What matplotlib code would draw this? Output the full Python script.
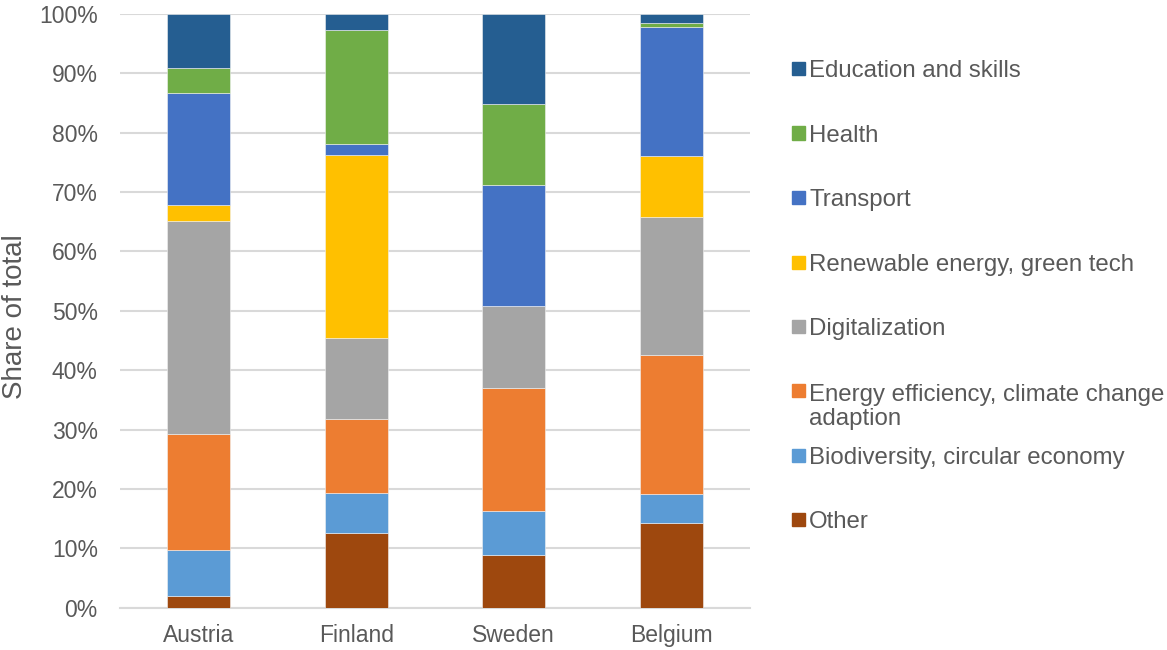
import matplotlib.pyplot as plt
import numpy as np
from matplotlib.patches import Rectangle
from matplotlib.ticker import PercentFormatter

plt.rcParams['font.family'] = ['Liberation Sans', 'DejaVu Sans']

countries = ["Austria", "Finland", "Sweden", "Belgium"]

# bottom to top in each bar
categories = ["Other", "Biodiversity, circular economy",
              "Energy efficiency, climate change\nadaption", "Digitalization",
              "Renewable energy, green tech", "Transport", "Health",
              "Education and skills"]
other = [2.0, 12.5, 8.9, 14.3]
biodiversity = [7.7, 6.8, 7.45, 4.8]
energy_eff = [19.6, 12.55, 20.65, 23.4]
digital = [35.8, 13.5, 13.85, 23.25]
renewable = [2.75, 30.9, 0.0, 10.3]
transport = [18.9, 1.8, 20.3, 21.8]
health = [4.2, 19.2, 13.65, 0.6]
education = [9.0, 2.75, 15.2, 1.5]

colors = ["#9E480E", "#5B9BD5", "#ED7D31", "#A5A5A5",
          "#FFC000", "#4472C4", "#70AD47", "#255E91"]

series = [other, biodiversity, energy_eff, digital,
          renewable, transport, health, education]

text_col = "#595959"
W, H = 1167, 650
fig = plt.figure(figsize=(W / 100, H / 100), dpi=100)
ax = fig.add_axes([120 / W, 1 - 607.7 / H, 630 / W, (607.7 - 14) / H])

x = np.arange(len(countries))
bottom = np.zeros(len(countries))
for vals, col in zip(series, colors):
    ax.bar(x, vals, 0.4, bottom=bottom, color=col, edgecolor="#f2f2f2",
           linewidth=0.4, zorder=3)
    bottom += np.array(vals)

ax.set_xlim(-0.5, len(countries) - 0.5)
ax.set_ylim(0, 100)
ax.set_yticks(np.arange(0, 101, 10))
ax.yaxis.set_major_formatter(PercentFormatter(decimals=0))
ax.set_xticks(x)
ax.set_xticklabels(countries)
ax.grid(axis="y", color="#D9D9D9", linewidth=1.5, zorder=0)
for s in ["top", "right", "left"]:
    ax.spines[s].set_visible(False)
ax.spines["bottom"].set_color("#D9D9D9")
ax.spines["bottom"].set_linewidth(1.5)
ax.tick_params(axis="both", length=0, labelsize=16.5, labelcolor=text_col)
ax.tick_params(axis="y", pad=16)
ax.tick_params(axis="x", pad=12)
ax.set_ylabel("Share of total", fontsize=20, color=text_col)
ax.yaxis.set_label_coords(-92 / 630, 0.49)

# legend drawn by hand, top entry first
leg_y = [68.3, 133, 197.7, 262, 326.7, 390.7, 455, 519.3]
line_h = 25.3
for i, (name, col) in enumerate(zip(categories[::-1], colors[::-1])):
    y = leg_y[i]
    extra = name.count("\n") * line_h
    fig.patches.append(Rectangle((792 / W, 1 - (y + 6.5) / H), 13 / W, 13 / H,
                                 transform=fig.transFigure, color=col))
    fig.text(809 / W, 1 - (y + 8.6 + extra) / H, name, fontsize=17.3,
             color=text_col, va="baseline", ha="left", linespacing=1.07)

fig.savefig("out.png", dpi=100)
